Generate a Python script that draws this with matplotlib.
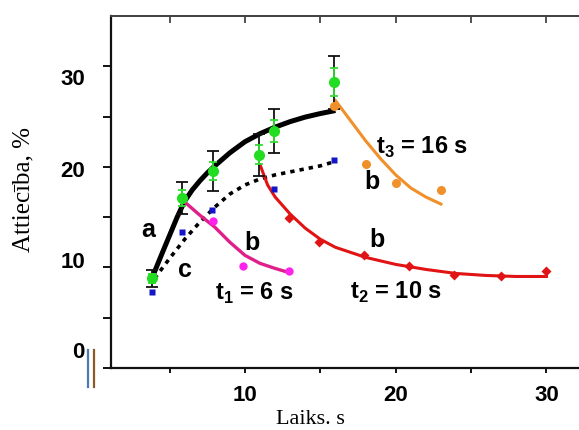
import matplotlib
matplotlib.use("Agg")
import matplotlib.pyplot as plt
from matplotlib.lines import Line2D
import matplotlib.transforms as mtransforms

plt.rcParams['mathtext.fontset'] = 'custom'
plt.rcParams['mathtext.bf'] = 'Liberation Sans:bold'
plt.rcParams['mathtext.rm'] = 'Liberation Sans:bold'

# ---- data ----
# curve a (solid black)
a_x = [3.9, 4.5, 5, 5.5, 6, 6.5, 7, 7.5, 8, 9, 10, 11, 12, 13, 14, 15, 16]
a_y = [9.2, 11.4, 13.2, 15.0, 16.6, 17.7, 18.6, 19.4, 20.1, 21.4, 22.5, 23.3, 23.95, 24.5, 24.95, 25.3, 25.6]
# curve c (dotted black)
c_x = [4.0, 5, 6, 7, 8, 9, 10, 11, 12, 13, 14, 15, 15.9]
c_y = [8.9, 10.9, 12.8, 14.5, 16.0, 17.3, 18.2, 18.8, 19.2, 19.5, 19.8, 20.1, 20.5]
# decay curves b
m_cx = [6, 7, 8, 9, 10, 11, 12, 12.9]
m_cy = [16.5, 15.2, 14.0, 12.5, 11.2, 10.4, 9.9, 9.5]
r_cx = [11, 11.5, 12, 13, 14, 15, 16, 17, 18, 20, 22, 24, 26, 28, 30]
r_cy = [20.2, 18.2, 17.0, 15.3, 13.9, 12.8, 12.0, 11.5, 11.0, 10.3, 9.8, 9.4, 9.2, 9.1, 9.1]
o_cx = [16, 17, 18, 19, 20, 21, 22, 23]
o_cy = [26.6, 24.6, 22.6, 20.8, 19.2, 17.9, 17.0, 16.3]

# measured points
green_x = [3.8, 5.8, 7.9, 10.9, 11.9, 15.9]
green_y = [8.9, 16.9, 19.6, 21.2, 23.6, 28.4]
green_err_black = [0.8, 1.6, 2.0, 2.1, 2.2, 2.6]
green_err_green = [0.4, 0.8, 0.9, 0.95, 1.1, 1.4]
blue_x = [3.8, 5.8, 7.8, 11.9, 15.9]
blue_y = [7.6, 13.5, 15.7, 17.8, 20.7]
mag_x = [7.9, 9.85, 12.9]
mag_y = [14.6, 10.1, 9.6]
red_x = [12.9, 14.9, 17.9, 20.9, 23.9, 27.0, 30.0]
red_y = [14.9, 12.5, 11.2, 10.1, 9.2, 9.1, 9.6]
org_x = [15.9, 18.0, 20.0, 23.0]
org_y = [26.1, 20.3, 18.4, 17.7]

yticks = [0, 10, 20, 30]
xticks = [10, 20, 30]

fig = plt.figure(figsize=(5.79, 4.30), dpi=100)
ax = fig.add_axes([0.1917, 0.1442, 0.8083, 0.8186])
ax.set_xlim(1.11, 32.16)
ax.set_ylim(0, 35)

# curves
ax.plot(a_x, a_y, color='black', lw=3.6, solid_capstyle='butt', solid_joinstyle='round', zorder=3)
ax.plot(c_x, c_y, color='black', lw=2.6, linestyle=(0, (1.2, 1.4)), zorder=3)
ax.plot(m_cx, m_cy, color='#e0208a', lw=2.4, solid_joinstyle='round', zorder=3)
ax.plot(r_cx, r_cy, color='#e01414', lw=2.2, solid_joinstyle='round', zorder=3)
ax.plot(o_cx, o_cy, color='#f0902a', lw=2.2, solid_joinstyle='round', zorder=3)

# error bars
ax.errorbar(green_x, green_y, yerr=green_err_black, fmt='none', ecolor='#111111',
            elinewidth=1.3, capsize=4, capthick=1.3, zorder=4)
ax.errorbar(green_x, green_y, yerr=green_err_green, fmt='none', ecolor='#33dd33',
            elinewidth=1.3, capsize=3, capthick=1.3, zorder=5)

# points
ax.plot(green_x, green_y, 'o', color='#22dd22', ms=8, mec='none', zorder=6)
ax.plot(blue_x, blue_y, 's', color='#1515c8', ms=5, mec='none', zorder=6)
ax.plot(mag_x, mag_y, 'o', color='#ff22ee', ms=6, mec='none', zorder=6)
ax.plot(red_x, red_y, 'D', color='#e01414', ms=5, mec='none', zorder=6)
ax.plot(org_x, org_y, 'o', color='#f0902a', ms=6.5, mec='none', zorder=6)

# annotations
lab = dict(fontfamily='Liberation Sans', fontweight='bold', fontsize=18,
           ha='center', va='center', zorder=7)
ax.text(3.56, 13.7, 'a', **lab)
ax.text(6.02, 9.75, 'c', **lab)
ax.text(10.46, 12.4, 'b', **lab)
ax.text(18.76, 12.7, 'b', **lab)
ax.text(18.43, 18.47, 'b', **lab)
tl = dict(fontfamily='Liberation Sans', fontweight='bold', fontsize=17,
          ha='center', va='center', zorder=7)
ax.text(10.66, 7.4, r'$\mathbf{t}_{\mathbf{1}}$ = 6 s', **tl)
ax.text(20.02, 7.5, r'$\mathbf{t}_{\mathbf{2}}$ = 10 s', **tl)
ax.text(21.75, 21.9, r'$\mathbf{t}_{\mathbf{3}}$ = 16 s', **tl)

# spines & ticks
ax.spines['right'].set_visible(False)
for s in ['left', 'bottom']:
    ax.spines[s].set_linewidth(1.6)
    ax.spines[s].set_color('#111111')
ax.spines['top'].set_linewidth(1.4)
ax.spines['top'].set_color('#444444')

ax.set_yticks(yticks)
ax.set_yticks([5, 15, 25], minor=True)
ax.set_xticks(xticks)
ax.set_xticks([5, 15, 25], minor=True)
ax.tick_params(axis='y', which='both', direction='out', length=5.8, width=1.4,
               color='#111111', pad=13)
ax.tick_params(axis='x', which='both', direction='out', length=3.6, width=1.4,
               color='#111111', pad=8.6, top=False)
for lbl in ax.get_xticklabels() + ax.get_yticklabels():
    lbl.set_fontfamily('Liberation Sans')
    lbl.set_fontweight('bold')
    lbl.set_fontsize(16)

# vertical offsets for y tick labels (as in the reference)
y_offsets_px = {0: 18, 10: 7, 20: -2, 30: -11}
for lbl, v in zip(ax.get_yticklabels(), yticks):
    off = mtransforms.ScaledTranslation(0, y_offsets_px[v] / 100, fig.dpi_scale_trans)
    lbl.set_transform(lbl.get_transform() + off)

# top axis ticks pointing inward
sec = ax.secondary_xaxis('top')
sec.set_xticks([5, 10, 15, 20, 25, 30])
sec.set_xticklabels([])
sec.tick_params(direction='in', length=5, width=1.3, color='#444444')
sec.spines['top'].set_linewidth(1.4)
sec.spines['top'].set_color('#444444')

fig.text(310 / 579, 1 - 419 / 430, 'Laiks. s', fontfamily='Liberation Serif',
         fontsize=16, ha='center', va='center')
fig.text(23 / 579, 1 - 190 / 430, 'Attiecība, %', fontfamily='Liberation Serif',
         fontsize=18, ha='center', va='center', rotation=90)

# decorative double bar near the origin
fig.add_artist(Line2D([88 / 579, 88 / 579], [1 - 350 / 430, 1 - 387 / 430],
                      color='#4a7ab8', lw=1.6))
fig.add_artist(Line2D([94 / 579, 94 / 579], [1 - 350 / 430, 1 - 387 / 430],
                      color='#8b5a2b', lw=1.6))

fig.savefig('out.png', dpi=100)
